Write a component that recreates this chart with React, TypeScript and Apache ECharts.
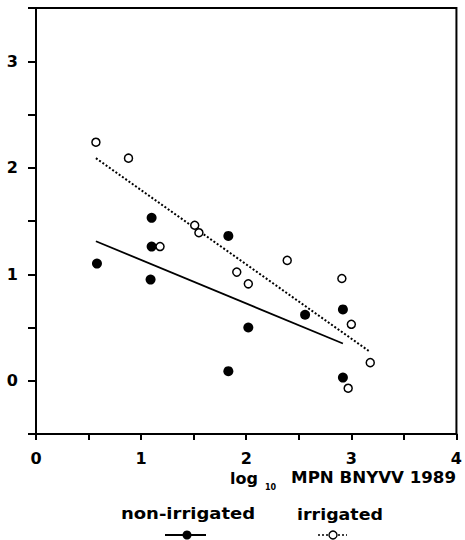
import React, { useEffect, useRef } from "react";
import * as echarts from "echarts";

const xTickLabels = ["0", "1", "2", "3", "4"];
const yTickLabels = ["0", "1", "2", "3"];

const seriesNames = ["non-irrigated", "irrigated"];
const axisTitleMain = "log";
const axisTitleSub = "10";
const axisTitleRest = "MPN BNYVV 1989";

const nonIrrX = [0.58, 1.1, 1.1, 1.09, 1.83, 1.83, 2.02, 2.56, 2.92, 2.92];
const nonIrrY = [1.1, 1.53, 1.26, 0.95, 1.36, 0.09, 0.5, 0.62, 0.67, 0.03];

const irrX = [0.57, 0.88, 1.18, 1.51, 1.55, 1.91, 2.02, 2.39, 2.91, 3.0, 3.18, 2.97];
const irrY = [2.24, 2.09, 1.26, 1.46, 1.39, 1.02, 0.91, 1.13, 0.96, 0.53, 0.17, -0.07];

const nonIrrFitX = [0.57, 2.92];
const nonIrrFitY = [1.31, 0.35];
const irrFitX = [0.57, 3.18];
const irrFitY = [2.09, 0.27];

const zip = (xs: number[], ys: number[]) => xs.map((x, i) => [x, ys[i]]);

const FONT = "DejaVu Sans";

export default function App() {
  const ref = useRef<HTMLDivElement>(null);
  useEffect(() => {
    document.body.style.margin = "0";
    if (!ref.current) return;
    const chart = echarts.init(ref.current, undefined, { renderer: "svg" });
    const fmtX = (v: number) => {
      const i = xTickLabels.indexOf(String(v));
      return Number.isInteger(v) && i >= 0 ? xTickLabels[i] : "";
    };
    const fmtY = (v: number) => {
      const i = yTickLabels.indexOf(String(v));
      return Number.isInteger(v) && i >= 0 ? yTickLabels[i] : "";
    };
    const legendText = (x: number, text: string, sx: number) => ({
      type: "text",
      x,
      y: 507,
      scaleX: sx,
      originX: 0,
      originY: 0,
      style: {
        text,
        fontFamily: FONT,
        fontWeight: "bold",
        fontSize: 15,
        fill: "#000",
        align: "center",
        verticalAlign: "top",
      },
    });
    chart.setOption({
      animation: false,
      backgroundColor: "#fff",
      grid: {
        left: 36,
        right: 7,
        top: 8,
        bottom: 106,
        show: true,
        borderColor: "#000",
        borderWidth: 2,
        containLabel: false,
      },
      xAxis: {
        type: "value",
        min: 0,
        max: 4,
        interval: 0.5,
        splitLine: { show: false },
        axisLine: { show: true, onZero: false, lineStyle: { color: "#000", width: 2 } },
        axisTick: { show: true, inside: false, length: 6, lineStyle: { color: "#000", width: 2 } },
        axisLabel: {
          formatter: fmtX,
          margin: 16,
          color: "#000",
          fontFamily: FONT,
          fontWeight: "bold",
          fontSize: 16,
          showMinLabel: true,
          showMaxLabel: true,
        },
      },
      yAxis: {
        type: "value",
        min: -0.5,
        max: 3.5,
        interval: 0.5,
        splitLine: { show: false },
        axisLine: { show: true, onZero: false, lineStyle: { color: "#000", width: 2 } },
        axisTick: { show: true, inside: false, length: 8, lineStyle: { color: "#000", width: 2 } },
        axisLabel: {
          formatter: fmtY,
          margin: 18,
          color: "#000",
          fontFamily: FONT,
          fontWeight: "bold",
          fontSize: 16,
        },
      },
      series: [
        {
          name: seriesNames[0] + " fit",
          type: "line",
          data: zip(nonIrrFitX, nonIrrFitY),
          symbol: "none",
          lineStyle: { color: "#000", width: 1.8, type: "solid" },
          z: 2,
        },
        {
          name: seriesNames[1] + " fit",
          type: "line",
          data: zip(irrFitX, irrFitY),
          symbol: "none",
          lineStyle: { color: "#000", width: 2, type: [2, 2] },
          z: 2,
        },
        {
          name: seriesNames[0],
          type: "scatter",
          data: zip(nonIrrX, nonIrrY),
          symbol: "circle",
          symbolSize: 10,
          itemStyle: { color: "#000", opacity: 1 },
          z: 3,
        },
        {
          name: seriesNames[1],
          type: "scatter",
          data: zip(irrX, irrY),
          symbol: "circle",
          symbolSize: 8,
          itemStyle: { color: "#fff", borderColor: "#000", borderWidth: 1.5, opacity: 1 },
          z: 3,
        },
      ],
      graphic: [
        {
          type: "text",
          x: 230,
          y: 470,
          style: {
            text: axisTitleMain,
            fontFamily: FONT,
            fontWeight: "bold",
            fontSize: 16,
            fill: "#000",
            align: "left",
            verticalAlign: "top",
          },
        },
        {
          type: "text",
          x: 265,
          y: 483,
          style: {
            text: axisTitleSub,
            fontFamily: FONT,
            fontWeight: "bold",
            fontSize: 8,
            fill: "#000",
            align: "left",
            verticalAlign: "top",
          },
        },
        {
          type: "text",
          x: 456,
          y: 470,
          scaleX: 1.04,
          originX: 0,
          originY: 0,
          style: {
            text: axisTitleRest,
            fontFamily: FONT,
            fontWeight: "bold",
            fontSize: 16,
            fill: "#000",
            align: "right",
            verticalAlign: "top",
          },
        },
        legendText(188, seriesNames[0], 1.2),
        legendText(340, seriesNames[1], 1.16),
        {
          type: "line",
          shape: { x1: 165, y1: 535, x2: 206, y2: 535 },
          style: { stroke: "#000", lineWidth: 2 },
        },
        {
          type: "circle",
          shape: { cx: 187, cy: 535, r: 4.5 },
          style: { fill: "#000" },
        },
        {
          type: "line",
          shape: { x1: 318, y1: 535, x2: 347, y2: 535 },
          style: { stroke: "#000", lineWidth: 1.5, lineDash: [2, 2] },
        },
        {
          type: "circle",
          shape: { cx: 333, cy: 535, r: 4 },
          style: { fill: "#fff", stroke: "#000", lineWidth: 1.4 },
        },
      ],
    });
    return () => chart.dispose();
  }, []);
  return <div ref={ref} style={{ width: 465, height: 540 }} />;
}
